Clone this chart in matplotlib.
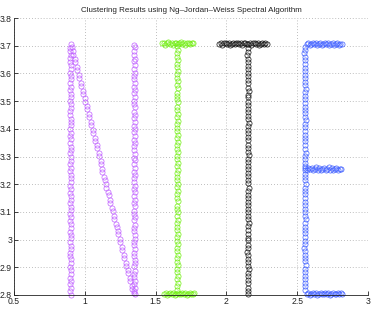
import matplotlib
matplotlib.use("Agg")
import matplotlib.pyplot as plt

plt.rcParams['font.family'] = ['Liberation Sans', 'DejaVu Sans']

title = "Clustering Results using Ng–Jordan–Weiss Spectral Algorithm"
x_ticks = [0.5, 1, 1.5, 2, 2.5, 3]
x_tick_labels = ["0.5", "1", "1.5", "2", "2.5", "3"]
y_ticks = [2.8, 2.9, 3.0, 3.1, 3.2, 3.3, 3.4, 3.5, 3.6, 3.7, 3.8]
y_tick_labels = ["2.8", "2.9", "3", "3.1", "3.2", "3.3", "3.4", "3.5", "3.6", "3.7", "3.8"]

# ---- cluster 1: letter N (purple) ----
n_left_x = [0.901, 0.898, 0.903, 0.899, 0.902, 0.897, 0.900, 0.904, 0.898, 0.901, 0.903, 0.899,
            0.896, 0.902, 0.900, 0.898, 0.903, 0.901, 0.897, 0.900, 0.904, 0.899, 0.902, 0.898,
            0.901, 0.903, 0.897, 0.900, 0.902, 0.899, 0.904, 0.898, 0.901, 0.900, 0.903, 0.897,
            0.902, 0.899, 0.901, 0.904, 0.898, 0.900, 0.902, 0.897, 0.903, 0.899, 0.901, 0.898,
            0.904, 0.900, 0.902, 0.897, 0.899, 0.903, 0.901, 0.898, 0.900, 0.904, 0.899, 0.902,
            0.897, 0.901, 0.903, 0.898, 0.900, 0.902, 0.899, 0.896, 0.903, 0.894, 0.898, 0.901]
n_left_y = [2.800, 2.813, 2.824, 2.838, 2.852, 2.863, 2.877, 2.890, 2.901, 2.915, 2.929, 2.940,
            2.953, 2.967, 2.978, 2.991, 3.005, 3.017, 3.029, 3.042, 3.056, 3.068, 3.080, 3.093,
            3.107, 3.119, 3.131, 3.144, 3.158, 3.170, 3.182, 3.195, 3.209, 3.221, 3.233, 3.246,
            3.260, 3.272, 3.284, 3.297, 3.311, 3.323, 3.335, 3.348, 3.362, 3.374, 3.386, 3.399,
            3.413, 3.425, 3.437, 3.450, 3.464, 3.476, 3.488, 3.501, 3.515, 3.527, 3.539, 3.552,
            3.566, 3.578, 3.590, 3.603, 3.617, 3.629, 3.641, 3.654, 3.668, 3.680, 3.692, 3.705]
n_right_x = [1.351, 1.348, 1.353, 1.349, 1.352, 1.347, 1.350, 1.354, 1.348, 1.351, 1.353, 1.349,
             1.346, 1.352, 1.350, 1.348, 1.353, 1.351, 1.347, 1.350, 1.354, 1.349, 1.352, 1.348,
             1.350, 1.353, 1.348, 1.351, 1.347, 1.352, 1.349, 1.354, 1.350, 1.348, 1.352, 1.349,
             1.353, 1.347, 1.351, 1.349, 1.352, 1.350, 1.348, 1.354, 1.349, 1.351, 1.347, 1.352,
             1.350, 1.353, 1.348, 1.351, 1.349, 1.352, 1.347, 1.350, 1.353, 1.349, 1.351, 1.348,
             1.352, 1.350, 1.347, 1.353, 1.349, 1.351, 1.348, 1.352, 1.350, 1.349, 1.351, 1.350]
n_right_y = [2.802, 2.814, 2.826, 2.839, 2.851, 2.865, 2.876, 2.888, 2.903, 2.914, 2.927, 2.941,
             2.952, 2.965, 2.980, 2.990, 3.003, 3.018, 3.031, 3.041, 3.054, 3.069, 3.082, 3.092,
             3.105, 3.120, 3.133, 3.143, 3.156, 3.171, 3.184, 3.194, 3.207, 3.222, 3.235, 3.245,
             3.258, 3.273, 3.286, 3.296, 3.309, 3.324, 3.337, 3.347, 3.360, 3.375, 3.388, 3.398,
             3.411, 3.426, 3.439, 3.449, 3.462, 3.477, 3.490, 3.500, 3.513, 3.528, 3.541, 3.551,
             3.564, 3.579, 3.592, 3.602, 3.615, 3.630, 3.643, 3.653, 3.666, 3.681, 3.694, 3.704]
n_diag_x = [0.908, 0.915, 0.916, 0.930, 0.931, 0.944, 0.945, 0.958,
            0.958, 0.972, 0.973, 0.986, 0.986, 1.000, 1.001, 1.014,
            1.014, 1.028, 1.029, 1.042, 1.042, 1.056, 1.057, 1.070,
            1.070, 1.084, 1.085, 1.098, 1.098, 1.112, 1.113, 1.125,
            1.125, 1.139, 1.140, 1.153, 1.153, 1.167, 1.168, 1.181,
            1.181, 1.195, 1.196, 1.209, 1.209, 1.223, 1.224, 1.237,
            1.237, 1.251, 1.252, 1.265, 1.265, 1.279, 1.280, 1.293,
            1.293, 1.307, 1.308, 1.321, 1.321, 1.334, 1.336, 1.346]
n_diag_y = [3.697, 3.680, 3.668, 3.651, 3.640, 3.622, 3.611, 3.594,
            3.583, 3.566, 3.555, 3.538, 3.527, 3.510, 3.498, 3.481,
            3.470, 3.453, 3.442, 3.425, 3.414, 3.397, 3.386, 3.368,
            3.357, 3.340, 3.329, 3.312, 3.301, 3.284, 3.273, 3.256,
            3.244, 3.227, 3.216, 3.199, 3.188, 3.171, 3.160, 3.143,
            3.132, 3.114, 3.103, 3.086, 3.075, 3.058, 3.047, 3.030,
            3.019, 3.002, 2.991, 2.973, 2.962, 2.945, 2.934, 2.917,
            2.906, 2.889, 2.878, 2.861, 2.849, 2.832, 2.821, 2.807]

# ---- cluster 2: letter I (green) ----
i_stem_x = [1.654, 1.651, 1.656, 1.652, 1.655, 1.650, 1.653, 1.657, 1.651, 1.654,
            1.656, 1.652, 1.649, 1.655, 1.653, 1.651, 1.656, 1.654, 1.650, 1.653,
            1.657, 1.652, 1.655, 1.651, 1.654, 1.656, 1.650, 1.653, 1.655, 1.652,
            1.657, 1.651, 1.654, 1.653, 1.656, 1.650, 1.655, 1.652, 1.654, 1.657,
            1.651, 1.653, 1.655, 1.650, 1.656, 1.652, 1.654, 1.651, 1.657, 1.653,
            1.655, 1.650, 1.652, 1.656, 1.654, 1.651, 1.653, 1.657, 1.652, 1.655,
            1.650, 1.654, 1.656, 1.651, 1.653, 1.655, 1.652, 1.649, 1.656, 1.653]
i_stem_y = [2.818, 2.832, 2.842, 2.857, 2.868, 2.883, 2.894, 2.908, 2.919, 2.934,
            2.945, 2.959, 2.970, 2.985, 2.996, 3.010, 3.021, 3.036, 3.047, 3.061,
            3.072, 3.087, 3.098, 3.112, 3.123, 3.138, 3.149, 3.163, 3.174, 3.189,
            3.200, 3.214, 3.225, 3.240, 3.251, 3.265, 3.276, 3.291, 3.302, 3.316,
            3.327, 3.342, 3.353, 3.367, 3.378, 3.393, 3.404, 3.418, 3.429, 3.444,
            3.455, 3.469, 3.480, 3.495, 3.506, 3.520, 3.531, 3.546, 3.557, 3.571,
            3.582, 3.597, 3.608, 3.622, 3.633, 3.648, 3.659, 3.673, 3.684, 3.698]
i_top_x = [1.546, 1.557, 1.568, 1.580, 1.590, 1.602, 1.613, 1.623, 1.635, 1.646,
           1.656, 1.668, 1.679, 1.689, 1.701, 1.711, 1.722, 1.734, 1.744, 1.756, 1.765]
i_top_y = [3.708, 3.711, 3.704, 3.709, 3.712, 3.706, 3.710, 3.703, 3.708, 3.711,
           3.705, 3.709, 3.712, 3.706, 3.710, 3.704, 3.709, 3.711, 3.706, 3.708, 3.710]
i_bot_x = [1.560, 1.570, 1.581, 1.592, 1.602, 1.613, 1.624, 1.634, 1.645, 1.656,
           1.666, 1.677, 1.688, 1.698, 1.709, 1.720, 1.730, 1.741, 1.752, 1.762, 1.770]
i_bot_y = [2.803, 2.806, 2.801, 2.805, 2.807, 2.802, 2.806, 2.800, 2.804, 2.807,
           2.802, 2.805, 2.808, 2.803, 2.806, 2.801, 2.805, 2.807, 2.802, 2.804, 2.806]

# ---- cluster 3: letter T (black) ----
t_top_x = [1.951, 1.961, 1.972, 1.983, 1.994, 2.004, 2.015, 2.026, 2.037, 2.048, 2.058,
           2.069, 2.080, 2.091, 2.102, 2.112, 2.123, 2.134, 2.145, 2.156, 2.166, 2.177,
           2.188, 2.199, 2.210, 2.220, 2.231, 2.242, 2.253, 2.264, 2.274, 2.284]
t_top_y = [3.707, 3.709, 3.704, 3.708, 3.710, 3.705, 3.709, 3.703, 3.707, 3.710, 3.705,
           3.708, 3.711, 3.706, 3.709, 3.704, 3.708, 3.710, 3.705, 3.707, 3.709, 3.704,
           3.708, 3.710, 3.706, 3.709, 3.704, 3.707, 3.710, 3.705, 3.708, 3.706]
t_stem_x = [2.154, 2.151, 2.156, 2.152, 2.155, 2.150, 2.153, 2.157, 2.151, 2.154,
            2.156, 2.152, 2.149, 2.155, 2.153, 2.151, 2.156, 2.154, 2.150, 2.153,
            2.157, 2.152, 2.155, 2.151, 2.154, 2.156, 2.150, 2.153, 2.155, 2.152,
            2.157, 2.151, 2.154, 2.153, 2.156, 2.150, 2.155, 2.152, 2.154, 2.157,
            2.151, 2.153, 2.155, 2.150, 2.156, 2.152, 2.154, 2.151, 2.157, 2.153,
            2.155, 2.150, 2.152, 2.156, 2.154, 2.151, 2.153, 2.157, 2.152, 2.155,
            2.150, 2.154, 2.156, 2.151, 2.153, 2.155, 2.152, 2.149, 2.156, 2.153]
t_stem_y = [2.802, 2.816, 2.827, 2.842, 2.853, 2.868, 2.878, 2.893, 2.904, 2.919,
            2.930, 2.945, 2.956, 2.971, 2.982, 2.997, 3.007, 3.022, 3.033, 3.048,
            3.059, 3.074, 3.085, 3.100, 3.111, 3.126, 3.136, 3.151, 3.162, 3.177,
            3.188, 3.203, 3.214, 3.229, 3.240, 3.255, 3.265, 3.280, 3.291, 3.306,
            3.317, 3.332, 3.343, 3.358, 3.369, 3.384, 3.394, 3.409, 3.420, 3.435,
            3.446, 3.461, 3.472, 3.487, 3.498, 3.513, 3.523, 3.538, 3.549, 3.564,
            3.575, 3.590, 3.601, 3.616, 3.627, 3.642, 3.652, 3.667, 3.678, 3.692]

# ---- cluster 4: letter E (blue) ----
e_stem_x = [2.556, 2.553, 2.558, 2.554, 2.557, 2.552, 2.555, 2.559, 2.553, 2.556,
            2.558, 2.554, 2.551, 2.557, 2.555, 2.553, 2.558, 2.556, 2.552, 2.555,
            2.559, 2.554, 2.557, 2.553, 2.556, 2.558, 2.552, 2.555, 2.557, 2.554,
            2.559, 2.553, 2.556, 2.555, 2.558, 2.552, 2.557, 2.554, 2.556, 2.559,
            2.553, 2.555, 2.557, 2.552, 2.558, 2.554, 2.556, 2.553, 2.559, 2.555,
            2.557, 2.552, 2.554, 2.558, 2.556, 2.553, 2.555, 2.559, 2.554, 2.557,
            2.552, 2.556, 2.558, 2.553, 2.555, 2.557, 2.554, 2.551, 2.558, 2.555]
e_stem_y = [2.817, 2.831, 2.843, 2.856, 2.870, 2.882, 2.894, 2.908, 2.921, 2.932,
            2.946, 2.959, 2.971, 2.984, 2.996, 3.010, 3.023, 3.034, 3.047, 3.061,
            3.074, 3.085, 3.098, 3.112, 3.124, 3.136, 3.150, 3.163, 3.175, 3.187,
            3.201, 3.214, 3.226, 3.238, 3.252, 3.264, 3.277, 3.291, 3.302, 3.314,
            3.328, 3.341, 3.355, 3.366, 3.378, 3.392, 3.406, 3.417, 3.430, 3.443,
            3.457, 3.468, 3.480, 3.494, 3.508, 3.519, 3.532, 3.545, 3.559, 3.570,
            3.582, 3.596, 3.610, 3.621, 3.634, 3.647, 3.661, 3.672, 3.684, 3.697]
e_top_x = [2.566, 2.576, 2.588, 2.597, 2.609, 2.620, 2.630, 2.641, 2.652, 2.663, 2.674, 2.684,
           2.696, 2.706, 2.718, 2.728, 2.739, 2.750, 2.761, 2.772, 2.783, 2.793, 2.805, 2.815]
e_top_y = [3.706, 3.709, 3.703, 3.707, 3.710, 3.705, 3.708, 3.702, 3.706, 3.709, 3.704, 3.707,
           3.710, 3.705, 3.708, 3.703, 3.707, 3.709, 3.704, 3.706, 3.709, 3.704, 3.707, 3.706]
e_mid_x = [2.558, 2.568, 2.579, 2.590, 2.601, 2.612, 2.623, 2.634, 2.645, 2.656, 2.667, 2.678,
           2.689, 2.700, 2.711, 2.722, 2.733, 2.744, 2.755, 2.766, 2.777, 2.788, 2.800, 2.812]
e_mid_y = [3.257, 3.252, 3.260, 3.254, 3.258, 3.251, 3.256, 3.261, 3.253, 3.257, 3.250, 3.255,
           3.259, 3.252, 3.256, 3.261, 3.253, 3.257, 3.251, 3.255, 3.259, 3.253, 3.256, 3.255]
e_bot_x = [2.566, 2.577, 2.588, 2.599, 2.610, 2.621, 2.632, 2.643, 2.654, 2.665, 2.676, 2.687,
           2.698, 2.709, 2.720, 2.731, 2.742, 2.753, 2.764, 2.775, 2.786, 2.797, 2.808, 2.818]
e_bot_y = [2.804, 2.807, 2.801, 2.805, 2.808, 2.802, 2.806, 2.800, 2.804, 2.807, 2.802, 2.805,
           2.808, 2.803, 2.806, 2.801, 2.805, 2.807, 2.802, 2.804, 2.807, 2.803, 2.806, 2.805]

clusters = [
    ("#c060ff", [(n_left_x, n_left_y), (n_diag_x, n_diag_y), (n_right_x, n_right_y)]),
    ("#70ee10", [(i_stem_x, i_stem_y), (i_top_x, i_top_y), (i_bot_x, i_bot_y)]),
    ("#111111", [(t_top_x, t_top_y), (t_stem_x, t_stem_y)]),
    ("#3f5fff", [(e_stem_x, e_stem_y), (e_top_x, e_top_y), (e_mid_x, e_mid_y), (e_bot_x, e_bot_y)]),
]

fig = plt.figure(figsize=(3.74, 3.09), dpi=100)
ax = fig.add_axes([14 / 374, 14 / 309, 354 / 374, 277 / 309])

for color, strokes in clusters:
    for xs, ys in strokes:
        n = min(len(xs), len(ys))
        ax.plot(xs[:n], ys[:n], 'o', mfc='none', mec=color, ms=3.7, mew=0.5,
                clip_on=False)

ax.set_xlim(0.5, 3)
ax.set_ylim(2.8, 3.8)
ax.set_xticks(x_ticks)
ax.set_xticklabels(x_tick_labels)
ax.set_yticks(y_ticks)
ax.set_yticklabels(y_tick_labels)
ax.tick_params(direction='in', length=3, width=0.6, labelsize=6.2, pad=1.5, colors='#222222')
ax.grid(True, linestyle=(0, (1, 2.5)), color='#a8a8a8', linewidth=0.6)
ax.set_axisbelow(True)
for side in ('top', 'right'):
    ax.spines[side].set_visible(False)
for side in ('left', 'bottom'):
    ax.spines[side].set_linewidth(0.6)
    ax.spines[side].set_color('#222222')
ax.set_title(title, fontsize=5.8, pad=4, color='#222222')

fig.savefig("out.png", dpi=100)
